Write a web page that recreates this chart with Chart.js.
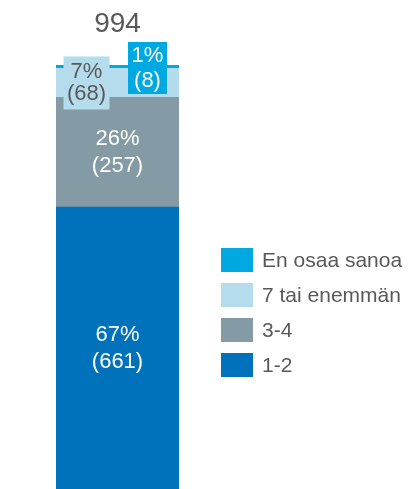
<!DOCTYPE html>
<html>
<head>
<meta charset="utf-8">
<script src="https://cdn.jsdelivr.net/npm/chart.js@4/dist/chart.umd.min.js"></script>
<style>
  html, body { margin: 0; padding: 0; background: #fff; }
  #wrap { position: relative; width: 410px; height: 489px; }
  #legend { position: absolute; left: 221px; top: 248px; font-family: "Liberation Sans", Arial, sans-serif; font-size: 21px; color: #595959; }
  .row { display: flex; align-items: center; height: 24px; margin-bottom: 11px; }
  .sw { width: 32px; height: 24px; margin-right: 9px; }
</style>
</head>
<body>
<div id="wrap">
  <canvas id="chart" width="410" height="489"></canvas>
  <div id="legend"></div>
</div>
<script>
// chart data
const categories = ["Vastaajat"];
const seriesNames = ["1-2", "3-4", "7 tai enemmän", "En osaa sanoa"];
const seriesCounts = [661, 257, 68, 8];
const seriesPercents = [67, 26, 7, 1];
const total = 994;
const colors = ["#0072bc", "#849aa4", "#b4dcec", "#00a8e1"];

const datasets = seriesNames.map((name, i) => ({
  label: name,
  data: [seriesCounts[i]],
  backgroundColor: colors[i],
  borderWidth: 0,
  barPercentage: 1,
  categoryPercentage: 1
}));

// label placement for each segment (small ones get a boxed label beside)
const labelStyle = [
  { color: "#fff", gap: 13.5 },
  { color: "#fff", gap: 13.5 },
  { color: "#595959", gap: 11, box: colors[2], dx: -31, cy: 83, w: 46, h: 53 },
  { color: "#fff", gap: 12.5, box: colors[3], dx: 30, cy: 68, w: 39, h: 52 }
];

const labelPlugin = {
  id: "segLabels",
  afterDatasetsDraw(chart) {
    const ctx = chart.ctx;
    ctx.save();
    ctx.font = '22px "Liberation Sans", Arial, sans-serif';
    ctx.textAlign = "center";
    ctx.textBaseline = "middle";
    chart.data.datasets.forEach((ds, i) => {
      const bar = chart.getDatasetMeta(i).data[0];
      const st = labelStyle[i];
      let x = bar.x, y = (bar.y + bar.base) / 2;
      if (st.box) {
        x = bar.x + st.dx;
        y = st.cy;
        ctx.fillStyle = st.box;
        ctx.fillRect(x - st.w / 2, y - st.h / 2, st.w, st.h);
      }
      ctx.fillStyle = st.color;
      ctx.fillText(seriesPercents[i] + "%", x, y - st.gap);
      ctx.fillText("(" + seriesCounts[i] + ")", x, y + st.gap);
    });
    // total above the bar
    const top = chart.getDatasetMeta(3).data[0];
    ctx.fillStyle = "#595959";
    ctx.font = '28px "Liberation Sans", Arial, sans-serif';
    ctx.fillText(String(total), top.x, 24);
    ctx.restore();
  }
};

new Chart(document.getElementById("chart"), {
  type: "bar",
  data: { labels: categories, datasets: datasets },
  options: {
    responsive: false,
    animation: false,
    layout: { padding: { left: 56, right: 231, top: 65, bottom: 0 } },
    scales: {
      x: { stacked: true, display: false },
      y: { stacked: true, display: false, min: 0, max: total }
    },
    plugins: { legend: { display: false }, tooltip: { enabled: false } }
  },
  plugins: [labelPlugin]
});

// legend, reversed order like the reference
const legend = document.getElementById("legend");
for (let i = seriesNames.length - 1; i >= 0; i--) {
  legend.innerHTML += `<div class="row"><div class="sw" style="background:${colors[i]}"></div>${seriesNames[i]}</div>`;
}
</script>
</body>
</html>
